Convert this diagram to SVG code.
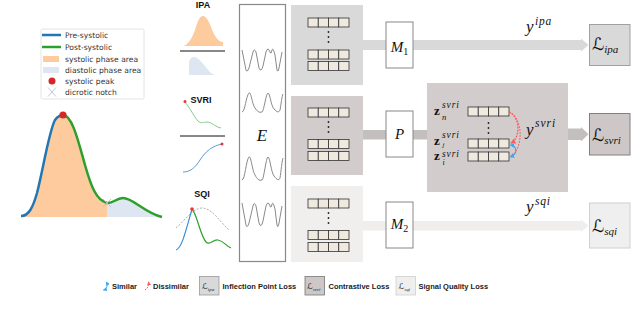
<svg xmlns="http://www.w3.org/2000/svg" width="640" height="314" viewBox="0 0 640 314">
<style>
.leg{font-family:"DejaVu Sans",sans-serif;font-size:7.6px;fill:#333}
.hdr{font-family:"Liberation Sans",Arial,sans-serif;font-weight:bold;font-size:9px;fill:#111;text-anchor:middle}
.bl{font-family:"Liberation Sans",Arial,sans-serif;font-weight:bold;font-size:7.5px;fill:#222}
.m{font-family:"Liberation Serif","DejaVu Serif",serif;font-style:italic;fill:#111}
.sc{font-family:"DejaVu Serif","DejaVu Sans",serif;font-style:italic;fill:#111}
.zb{font-family:"Liberation Serif","DejaVu Serif",serif;font-weight:bold;fill:#111}
.zs{font-family:"Liberation Serif","DejaVu Serif",serif;font-style:italic;fill:#111;font-size:9.5px;letter-spacing:0.9px}
.cell{fill:#efe9df;stroke:#333;stroke-width:0.8}
.mbox{fill:#fff;stroke:#888;stroke-width:1}
.wave{fill:none;stroke:#8a8a8a;stroke-width:1}
.dot{fill:#222}
</style>
<defs>
<g id="vec">
<rect class="cell" x="0" y="0" width="10.25" height="9"/>
<rect class="cell" x="10.25" y="0" width="10.25" height="9"/>
<rect class="cell" x="20.5" y="0" width="10.25" height="9"/>
<rect class="cell" x="30.75" y="0" width="10.25" height="9"/>
</g>
<g id="vdots"><circle class="dot" cx="0" cy="0" r="0.9"/><circle class="dot" cx="0" cy="5" r="0.9"/><circle class="dot" cx="0" cy="10" r="0.9"/></g>
<marker id="ar" viewBox="0 0 6 6" refX="5" refY="3" markerWidth="4" markerHeight="4" orient="auto"><path d="M0,0 L6,3 L0,6 Z" fill="#ff5a5a"/></marker>
<marker id="ab" viewBox="0 0 6 6" refX="5" refY="3" markerWidth="4" markerHeight="4" orient="auto-start-reverse"><path d="M0,0 L6,3 L0,6 Z" fill="#3aa7f0"/></marker>
</defs>

<!-- left waveform figure -->
<g id="waveform">
<rect x="41" y="29" width="103" height="70" rx="1.5" fill="#fff" stroke="#ddd" stroke-width="0.8"/>
<line x1="42" y1="35" x2="61" y2="35" stroke="#1f77b4" stroke-width="2.5"/>
<text class="leg" x="65" y="37.7">Pre-systolic</text>
<line x1="42" y1="47" x2="61" y2="47" stroke="#2ca02c" stroke-width="2.5"/>
<text class="leg" x="65" y="49.7">Post-systolic</text>
<rect x="43" y="56" width="16" height="6" fill="#fdcb9e"/>
<text class="leg" x="65" y="61.7">systolic phase area</text>
<rect x="43" y="67" width="16" height="6" fill="#dde6f1"/>
<text class="leg" x="65" y="72.7">diastolic phase area</text>
<circle cx="52" cy="81" r="3.5" fill="#d62728"/>
<text class="leg" x="65" y="83.7">systolic peak</text>
<path d="M48,87.5 L56,96.5 M56,87.5 L48,96.5" stroke="#b8b8c8" stroke-width="0.8"/>
<text class="leg" x="65" y="94.7">dicrotic notch</text>

<path d="M21,216 C29,216 33,207 37,193 C43,170 49,131 55,120 C58,116 60,115 63,115 C72,115 78,140 85,165 C91,186 96,200 107,203 L107,217 L21,217 Z" fill="#fdcb9e"/>
<path d="M107,203 C113,204 116,198 123,198 C133,198 145,213 162,217 L107,217 Z" fill="#dde6f1"/>
<path d="M21,216 C29,216 33,207 37,193 C43,170 49,131 55,120 C58,116 60,115 63,115" fill="none" stroke="#1f77b4" stroke-width="2.5"/>
<path d="M63,115 C72,115 78,140 85,165 C91,186 96,200 107,203 C113,204 116,198 123,198 C133,198 145,213 162,217" fill="none" stroke="#2ca02c" stroke-width="2.5"/>
<circle cx="63" cy="115" r="3.6" fill="#d62728"/>
<path d="M103,199 L111,207 M111,199 L103,207" stroke="#c0c0cc" stroke-width="0.9"/>
</g>

<!-- task icons -->
<g id="ipa-icon">
<text class="hdr" x="203" y="8">IPA</text>
<path d="M182,46 C188,46 192,38 195,30 C198,20 200,16 203,16 C207,16 210,24 213,32 C217,40 220,42 223,42 L223,46 Z" fill="#fdcb9e"/>
<line x1="180" y1="51" x2="225" y2="51" stroke="#111" stroke-width="1"/>
<path d="M189,75 L189,62 C190,58 192,57 194,57 C197,57 200,60 204,65 C208,70 211,74 215,75 Z" fill="#dde6f1"/>
</g>
<g id="svri-icon">
<text class="hdr" x="201" y="103">SVRI</text>
<path d="M185,102 C190,108 195,118 198,121 C201,124 204,122 207,122 C212,122 215,127 221,128" fill="none" stroke="#86cc86" stroke-width="1"/>
<circle cx="185" cy="101.5" r="1.5" fill="#e33"/>
<line x1="180" y1="136" x2="225" y2="136" stroke="#111" stroke-width="1"/>
<path d="M183,172 C190,172 195,168 200,160 C206,151 212,146 222,144" fill="none" stroke="#5b9bd5" stroke-width="1"/>
<circle cx="222" cy="144" r="1.5" fill="#e33"/>
</g>
<g id="sqi-icon">
<text class="hdr" x="202" y="197">SQI</text>
<path d="M176,228 C185,220 193,208 202,208 C212,208 220,222 229,230" fill="none" stroke="#999" stroke-width="0.8" stroke-dasharray="2,1.5"/>
<path d="M176,250 C182,248 186,230 192,209" fill="none" stroke="#3b8fd8" stroke-width="1.2"/>
<path d="M192,209 C197,214 200,235 206,242 C210,246 213,239 218,240 C224,241 226,246 231,248" fill="none" stroke="#2ca02c" stroke-width="1.2"/>
<circle cx="192" cy="209" r="1.8" fill="#e33"/>
</g>

<!-- encoder -->
<g id="encoder">
<rect x="239.5" y="4.5" width="46" height="257" fill="#fff" stroke="#888" stroke-width="1.2"/>
<path class="wave" d="M242,50 L246,70 Q247,73 249,68 L253,52 Q254,48 256,52 L259,68 Q261,73 263,66 L266,52 Q268,46 270,52 Q271,55 272,50 Q273,47 275,55 L277,70 Q278,73 279,68 L282,52"/>
<path class="wave" d="M242,112 C245,112 246,96 249,93 C251,91 252,104 255,108 C257,111 259,113 262,112 C264,111 266,93 268,93 C270,93 271,106 274,109 C277,112 279,113 280,110 C281,105 282,95 283,94"/>
<text class="m" x="262" y="141" font-size="17" text-anchor="middle">E</text>
<path class="wave" stroke="#c8c8c8" d="M242,180 C245,180 246,160 249,157 C251,155 252,170 255,175 C257,179 259,181 262,180 C264,179 266,157 268,157 C270,157 271,172 274,176 C277,180 279,181 280,178 C281,172 282,160 283,158"/>
<path class="wave" d="M242,203 L246,225 Q247,229 249,223 L253,206 Q254,201 256,206 L259,223 Q261,229 263,221 L266,206 Q268,200 270,206 Q271,209 272,204 Q273,201 275,209 L277,225 Q278,229 279,223 L282,206"/>
</g>

<!-- connectors -->
<g id="connectors">
<rect x="363" y="40" width="23" height="10" fill="#d9d9d9"/>
<path d="M413,40 L581,40 L581,38.5 L588.5,45 L581,51.5 L581,50 L413,50 Z" fill="#d9d9d9"/>
<rect x="363" y="130" width="23" height="9.5" fill="#c3bfbf"/>
<rect x="413" y="130" width="14" height="9.5" fill="#c3bfbf"/>
<path d="M568,128.5 L581,128.5 L581,127 L588.5,134.3 L581,141.5 L581,140 L568,140 Z" fill="#c3bfbf"/>
<rect x="363" y="221" width="23" height="9.5" fill="#efeeed"/>
<path d="M413,221 L581,221 L581,219.5 L588.5,225.8 L581,232 L581,230.5 L413,230.5 Z" fill="#efeeed"/>
</g>

<!-- feature panels -->
<g id="panel-ipa">
<rect x="291" y="5" width="72" height="80" fill="#d9d9d9"/>
<use href="#vec" x="308" y="18"/>
<use href="#vdots" x="328.5" y="32"/>
<use href="#vec" x="308" y="50"/>
<use href="#vec" x="308" y="61.5"/>
</g>
<g id="panel-svri">
<rect x="291" y="96" width="72" height="79" fill="#d2cccc"/>
<use href="#vec" x="308" y="108"/>
<use href="#vec" x="308" y="139.5"/>
<use href="#vec" x="308" y="151.5"/>
<use href="#vdots" x="328.5" y="122"/>
</g>
<g id="panel-sqi">
<rect x="291" y="186" width="72" height="76" fill="#f0efee"/>
<use href="#vec" x="308" y="199"/>
<use href="#vdots" x="328.5" y="213"/>
<use href="#vec" x="308" y="230.5"/>
<use href="#vec" x="308" y="242.5"/>
</g>

<!-- heads -->
<g id="M1"><rect class="mbox" x="386" y="22" width="27" height="46"/><text class="m" x="399.5" y="52" font-size="15" text-anchor="middle">M<tspan font-size="10" font-style="normal" dy="3">1</tspan></text></g>
<g id="P"><rect class="mbox" x="386" y="111" width="27" height="46"/><text class="m" x="399.5" y="139" font-size="15" text-anchor="middle">P</text></g>
<g id="M2"><rect class="mbox" x="386" y="202" width="27" height="46"/><text class="m" x="399.5" y="229" font-size="15" text-anchor="middle">M<tspan font-size="10" font-style="normal" dy="3">2</tspan></text></g>

<!-- contrastive panel -->
<g id="contrastive">
<rect x="427" y="83" width="141" height="109" fill="#d2cccc"/>
<use href="#vec" x="468" y="107"/>
<use href="#vec" x="468" y="139"/>
<use href="#vec" x="468" y="152"/>
<use href="#vdots" x="488.5" y="123"/>
<text class="zb" x="434" y="115" font-size="13">z</text><text class="zs" x="442" y="108">svri</text><text class="m" x="442" y="119.5" font-size="8.5">n</text>
<text class="zb" x="434" y="144.5" font-size="13">z</text><text class="zs" x="442" y="137.5">svri</text><text class="m" x="442.5" y="147" font-size="7">j</text>
<text class="zb" x="434" y="160" font-size="13">z</text><text class="zs" x="442" y="156.5">svri</text><text class="m" x="442.5" y="164.5" font-size="8">i</text>
<path d="M509,112 C520,116 521,138 511,143" fill="none" stroke="#ff5a5a" stroke-width="1.3" stroke-dasharray="1.8,1.2" marker-end="url(#ar)"/>
<path d="M509,112 C524,118 523,150 511,156" fill="none" stroke="#ff5a5a" stroke-width="1" stroke-dasharray="1.8,1.2" marker-end="url(#ar)"/>
<path d="M510.5,145 C517,146 518,154 510.5,157" fill="none" stroke="#3aa7f0" stroke-width="1.1" marker-start="url(#ab)" marker-end="url(#ab)"/>
<text class="m" x="526" y="135" font-size="17">y</text><text class="m" x="535" y="127" font-size="11.5" letter-spacing="1">svri</text>
</g>

<!-- outputs and losses -->
<g id="y-ipa"><text class="m" x="526" y="32" font-size="17">y</text><text class="m" x="535" y="25" font-size="11.5" letter-spacing="0.8">ipa</text></g>
<g id="y-sqi"><text class="m" x="526" y="212" font-size="17">y</text><text class="m" x="535" y="205" font-size="11.5" letter-spacing="0.8">sqi</text></g>
<g id="L-ipa"><rect x="589.5" y="24.5" width="40.5" height="41" fill="#d9d9d9" stroke="#a0a0a0" stroke-width="1"/><text class="sc" x="592" y="50" font-size="17">ℒ<tspan class="m" font-size="11" dy="3">ipa</tspan></text></g>
<g id="L-svri"><rect x="589.5" y="113.5" width="40.5" height="41.5" fill="#cdc7c7" stroke="#808080" stroke-width="1"/><text class="sc" x="592" y="141" font-size="17">ℒ<tspan class="m" font-size="11" dy="3">svri</tspan></text></g>
<g id="L-sqi"><rect x="589.5" y="203" width="40.5" height="45" fill="#efefef" stroke="#d0d0d0" stroke-width="1"/><text class="sc" x="592" y="232" font-size="17">ℒ<tspan class="m" font-size="11" dy="3">sqi</tspan></text></g>

<!-- bottom legend -->
<g id="legend">
<path d="M103.5,290 C107,289 108,285 106.5,282" fill="none" stroke="#3aa7f0" stroke-width="1" marker-start="url(#ab)" marker-end="url(#ab)"/>
<text class="bl" x="112" y="288.5">Similar</text>
<path d="M145,290 C148,288 149,285 148.5,282" fill="none" stroke="#ff5a5a" stroke-width="1" stroke-dasharray="1.5,1" marker-end="url(#ar)"/>
<text class="bl" x="153" y="288.5">Dissimilar</text>
<rect x="199.5" y="276.5" width="19.5" height="18.5" fill="#d9d9d9" stroke="#9a9a9a" stroke-width="0.8"/>
<text class="sc" x="202" y="289" font-size="8" fill="#444">ℒ<tspan class="m" font-size="5" dy="1.5">ipa</tspan></text>
<text class="bl" x="222.5" y="288.5">Inflection Point Loss</text>
<rect x="305" y="276.5" width="19.5" height="18.5" fill="#cdc7c7" stroke="#777" stroke-width="0.8"/>
<text class="sc" x="307" y="289" font-size="8" fill="#444">ℒ<tspan class="m" font-size="5" dy="1.5">svri</tspan></text>
<text class="bl" x="328.5" y="288.5">Contrastive Loss</text>
<rect x="396" y="276.5" width="19.5" height="18.5" fill="#efefef" stroke="#cfcfcf" stroke-width="0.8"/>
<text class="sc" x="398.5" y="289" font-size="8" fill="#444">ℒ<tspan class="m" font-size="5" dy="1.5">sqi</tspan></text>
<text class="bl" x="418.5" y="288.5">Signal Quality Loss</text>
</g>
</svg>
